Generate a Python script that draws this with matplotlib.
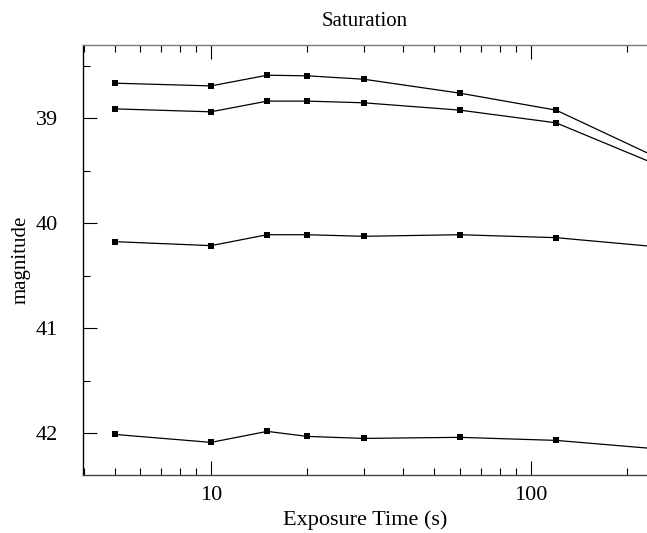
import numpy as np
import matplotlib
matplotlib.use("Agg")
import matplotlib.pyplot as plt
from matplotlib.ticker import LogLocator, FixedLocator, NullFormatter

plt.rcParams['font.family'] = ['Liberation Serif', 'DejaVu Serif']

# exposure times (s) and magnitudes
exposure = [5, 10, 15, 20, 30, 60, 120, 300]
mag_a = [38.664, 38.690, 38.588, 38.594, 38.626, 38.759, 38.921, 39.49]
mag_b = [38.909, 38.937, 38.835, 38.835, 38.851, 38.921, 39.042, 39.546]
mag_c = [40.175, 40.213, 40.109, 40.109, 40.124, 40.109, 40.137, 40.247]
mag_d = [42.013, 42.089, 41.984, 42.032, 42.051, 42.041, 42.070, 42.172]

fig = plt.figure(figsize=(6.47, 5.33), dpi=100)
ax = fig.add_axes([83 / 647, 58 / 533, 564 / 647, 430 / 533])

for m in [mag_a, mag_b, mag_c, mag_d]:
    ax.plot(exposure, m, color='black', lw=0.9, marker='s', ms=4.5,
            markerfacecolor='black', markeredgewidth=0)

ax.set_xscale('log')
ax.set_xlim(3.98, 231)
ax.set_ylim(42.4, 38.3)

ax.xaxis.set_major_locator(FixedLocator([10, 100]))
ax.xaxis.set_major_formatter(plt.FuncFormatter(lambda v, p: '%d' % v))
ax.xaxis.set_minor_locator(LogLocator(base=10, subs=np.arange(2, 10)))
ax.xaxis.set_minor_formatter(NullFormatter())
ax.set_yticks([39, 40, 41, 42])
ax.set_yticks([38.5, 39.5, 40.5, 41.5], minor=True)

ax.tick_params(which='both', direction='in', top=True, right=False,
               width=0.8, labelsize=16)
ax.tick_params(which='major', length=10)
ax.tick_params(which='minor', length=5)
ax.tick_params(axis='y', pad=18)
ax.tick_params(axis='x', pad=8)

ax.spines['right'].set_visible(False)
for s in ['top', 'bottom', 'left']:
    ax.spines[s].set_linewidth(1.0)
ax.spines['top'].set_color('#777777')
ax.spines['bottom'].set_color('#444444')

ax.set_xlabel('Exposure Time (s)', fontsize=16, labelpad=4)
ax.set_ylabel('magnitude', fontsize=15, labelpad=4)
ax.set_title('Saturation', fontsize=15, pad=14)

fig.savefig('out.png', dpi=100)
